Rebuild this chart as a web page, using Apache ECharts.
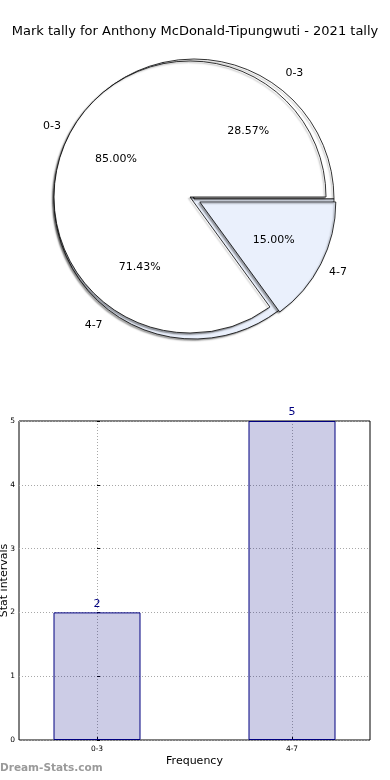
<!DOCTYPE html>
<html>
<head>
<meta charset="utf-8">
<script src="https://cdn.jsdelivr.net/npm/echarts@6/dist/echarts.min.js"></script>
<style>
  html, body { margin: 0; padding: 0; background: #fff; }
  #chart { width: 390px; height: 780px; }
</style>
</head>
<body>
<div id="chart"></div>
<script>
// ---- data ----
const chartTitle = 'Mark tally for Anthony McDonald-Tipungwuti - 2021 tally';
const categories = ['0-3', '4-7'];
const tallyCounts = [2, 5];          // outer pie + bar chart
const intervalShares = [85, 15];     // inner pie (percent)
const yMax = 5;
const yInterval = 1;

// ---- styling ----
const FONT = 'DejaVu Sans';
const sliceColors = ['#ffffff', '#eaf0fc'];
const R = 136;
const centerB = [190, 197];
const centerA = [194, 199];

const pctFmt = p => p.percent.toFixed(2) + '%';
const shadow = { shadowBlur: 1.5, shadowOffsetX: -1.5, shadowOffsetY: 1.5, shadowColor: 'rgba(0,0,0,0.35)' };

function visiblePie(values, center, radius, selIdx, offset, z) {
  return {
    type: 'pie', silent: true, z: z,
    center: center, radius: radius,
    startAngle: 0, clockwise: false,
    selectedMode: 'multiple', selectedOffset: offset,
    label: { show: false }, labelLine: { show: false },
    emphasis: { disabled: true },
    data: values.map((v, i) => ({
      name: categories[i], value: v, selected: selIdx.indexOf(i) >= 0,
      itemStyle: Object.assign({ color: sliceColors[i], borderColor: '#000', borderWidth: 0.8 }, shadow)
    }))
  };
}
function labelPie(values, center, labelDist, selIdx, offset, fmt, z) {
  return {
    type: 'pie', silent: true, z: z,
    center: center, radius: labelDist * 2,
    startAngle: 0, clockwise: false,
    selectedMode: 'multiple', selectedOffset: offset,
    itemStyle: { color: 'rgba(0,0,0,0)', borderWidth: 0 },
    label: { show: true, position: 'inside', formatter: fmt, color: '#000', fontSize: 11, fontFamily: FONT },
    labelLine: { show: false },
    emphasis: { disabled: true },
    data: values.map((v, i) => ({ name: categories[i], value: v, selected: selIdx.indexOf(i) >= 0 }))
  };
}

const chart = echarts.init(document.getElementById('chart'), null, { renderer: 'canvas' });
chart.setOption({
  animation: false,
  backgroundColor: '#fff',
  textStyle: { fontFamily: FONT },
  title: {
    text: chartTitle, left: 'center', top: 20,
    textStyle: { fontSize: 13, fontWeight: 'normal', color: '#000', fontFamily: FONT }
  },
  graphic: [{
    type: 'text', left: 0, top: 763,
    style: { text: 'Dream-Stats.com', fill: '#9a9a9a', font: 'bold 10.5px "DejaVu Sans"' }
  }],
  grid: [{
    left: 19, right: 20, top: 421, bottom: 40,
    outerBoundsMode: 'none', containLabel: false,
    show: true, borderColor: '#000', borderWidth: 1, backgroundColor: 'transparent'
  }],
  xAxis: [{
    type: 'value', min: -0.4, max: 1.4,
    name: 'Frequency', nameLocation: 'middle', nameGap: 16,
    nameTextStyle: { fontSize: 11, color: '#000', fontFamily: FONT },
    axisLine: { show: false },
    axisTick: { show: true, inside: true, length: 3, customValues: categories.map((c, i) => i), lineStyle: { color: '#000' } },
    axisLabel: { customValues: categories.map((c, i) => i), formatter: v => categories[v] || '', fontSize: 7.5, color: '#000', margin: 5 },
    splitLine: { show: true, lineStyle: { type: [1, 2], color: '#a8a8a8', width: 1 } }
  }],
  yAxis: [{
    type: 'value', min: 0, max: yMax, interval: yInterval,
    name: 'Stat intervals', nameLocation: 'middle', nameGap: 9, nameRotate: 90, nameMoveOverlap: false,
    nameTextStyle: { fontSize: 11, color: '#000', fontFamily: FONT },
    axisLine: { show: false },
    axisTick: { show: true, inside: true, length: 3, lineStyle: { color: '#000' } },
    axisLabel: { fontSize: 7.5, color: '#000', margin: 4 },
    splitLine: { show: true, lineStyle: { type: [1, 2], color: '#a8a8a8', width: 1 } }
  }],
  series: [
    visiblePie(tallyCounts, centerA, R + 4, [], 0, 1),
    visiblePie(intervalShares, centerB, R, [1], 11, 2),
    labelPie(tallyCounts, centerA, 158, [], 0, p => p.name, 3),
    labelPie(tallyCounts, centerA, 84, [], 0, pctFmt, 3),
    labelPie(intervalShares, centerB, 152, [1], 11, p => p.name, 3),
    labelPie(intervalShares, centerB, 80, [1], 11, pctFmt, 3),
    {
      type: 'bar', xAxisIndex: 0, yAxisIndex: 0, barWidth: 87, silent: true,
      data: categories.map((c, i) => [i, tallyCounts[i]]),
      itemStyle: { color: 'rgba(0,0,128,0.2)', borderColor: '#000080', borderWidth: 1 },
      label: { show: true, position: 'top', distance: 3, color: '#000080', fontSize: 11, fontFamily: FONT,
               formatter: p => p.value[1] }
    }
  ]
});
</script>
</body>
</html>
